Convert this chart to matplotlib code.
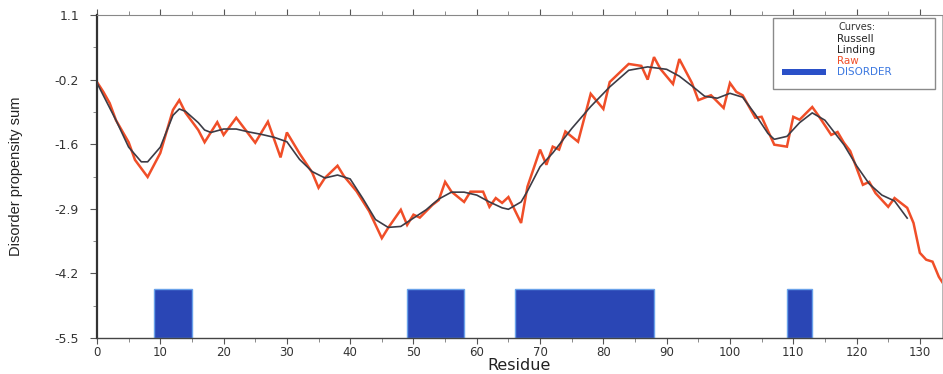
import matplotlib.pyplot as plt
from matplotlib.patches import Rectangle
from matplotlib.ticker import FixedLocator, MultipleLocator


# raw propensity sum per residue
raw_res = [0, 1, 2, 3, 5, 6, 8, 10, 12, 13, 14, 16, 17, 19, 20, 22, 25, 27, 29, 30,
           32, 34, 35, 36, 38, 39, 41, 43, 45, 46, 48, 49, 50, 51, 53, 54, 55, 56, 58, 59,
           61, 62, 63, 64, 65, 67, 68, 70, 71, 72, 73, 74, 76, 78, 80, 81, 84, 86, 87, 88,
           89, 91, 92, 94, 95, 97, 99, 100, 101, 102, 104, 105, 107, 109, 110, 111, 113, 114, 116, 117,
           118, 119, 121, 122, 123, 125, 126, 128, 129, 130, 131, 132, 133, 134]
raw_val = [-0.27, -0.47, -0.70, -1.05, -1.50, -1.86, -2.21, -1.72, -0.84, -0.64,
           -0.90, -1.25, -1.50, -1.09, -1.35, -1.00, -1.51, -1.08, -1.81, -1.30,
           -1.73, -2.12, -2.43, -2.23, -1.98, -2.19, -2.50, -2.91, -3.46, -3.25,
           -2.88, -3.19, -2.98, -3.04, -2.78, -2.68, -2.31, -2.51, -2.72, -2.51,
           -2.51, -2.82, -2.64, -2.74, -2.62, -3.15, -2.41, -1.65, -1.96, -1.59,
           -1.65, -1.28, -1.49, -0.51, -0.82, -0.27, 0.10, 0.06, -0.22, 0.24,
           0.00, -0.31, 0.20, -0.29, -0.64, -0.54, -0.80, -0.29, -0.47, -0.54,
           -1.00, -0.98, -1.55, -1.59, -0.98, -1.04, -0.78, -0.96, -1.35, -1.29,
           -1.51, -1.68, -2.37, -2.31, -2.54, -2.82, -2.64, -2.84, -3.15, -3.76,
           -3.90, -3.94, -4.25, -4.45]

# smoothed curve (Russell / Linding)
smooth_res = [0, 3, 5, 7, 8, 10, 12, 13, 14, 16, 17, 18, 20, 22, 24, 26, 28, 30, 32, 34,
              36, 38, 40, 42, 44, 46, 48, 50, 52, 54, 56, 58, 60, 62, 64, 65, 67, 68, 70, 72,
              75, 78, 81, 84, 87, 90, 92, 94, 96, 98, 100, 102, 104, 106, 107, 109, 111, 113, 115, 118,
              120, 122, 124, 126, 128]
smooth_val = [-0.29, -1.05, -1.60, -1.90, -1.90, -1.60, -0.95, -0.82, -0.87, -1.10,
              -1.25, -1.30, -1.23, -1.23, -1.29, -1.34, -1.40, -1.49, -1.85, -2.10,
              -2.23, -2.17, -2.25, -2.65, -3.08, -3.24, -3.22, -3.05, -2.88, -2.66,
              -2.52, -2.52, -2.58, -2.72, -2.84, -2.87, -2.72, -2.50, -2.00, -1.72,
              -1.22, -0.77, -0.37, -0.03, 0.04, -0.01, -0.15, -0.35, -0.56, -0.60,
              -0.50, -0.58, -0.93, -1.32, -1.44, -1.38, -1.10, -0.90, -1.05, -1.55,
              -1.98, -2.35, -2.58, -2.70, -3.05]

# disordered regions (start, end residue)
disorder_start = [9, 49, 66, 109]
disorder_end = [15, 58, 88, 113]
disorder_top = -4.5

y_ticks = [-5.5, -4.18, -2.86, -1.54, -0.22, 1.1]
y_tick_labels = ["-5.5", "-4.2", "-2.9", "-1.6", "-0.2", "1.1"]


def main():
    fig = plt.figure(figsize=(9.43, 3.74), dpi=100)
    ax = fig.add_axes([97 / 943, 36 / 374, 845 / 943, 323 / 374])

    ymin, ymax = -5.5, 1.1
    widths = [e - s for s, e in zip(disorder_start, disorder_end)]
    ax.bar(disorder_start, [disorder_top - ymin] * len(widths), width=widths,
           bottom=ymin, align="edge", color="#2a46b5", edgecolor="#6aa2ea",
           linewidth=1.0, zorder=1)

    ax.plot(smooth_res, smooth_val, color="#3c3c46", lw=1.2, zorder=3)
    ax.plot(raw_res, raw_val, color="#f04e28", lw=1.8, zorder=2,
            solid_joinstyle="miter")

    ax.set_xlim(0, 133.5)
    ax.set_ylim(ymin, ymax)

    ax.xaxis.set_major_locator(MultipleLocator(10))
    ax.xaxis.set_minor_locator(MultipleLocator(5))
    ax.yaxis.set_major_locator(FixedLocator(y_ticks))
    ax.set_yticklabels(y_tick_labels)
    ax.yaxis.set_minor_locator(FixedLocator(
        [(a + b) / 2 for a, b in zip(y_ticks[:-1], y_ticks[1:])]))

    ax.tick_params(axis="both", which="major", direction="out", length=5,
                   width=0.8, color="#555555", labelsize=9, labelcolor="#333333")
    ax.tick_params(axis="both", which="minor", direction="out", length=3,
                   width=0.6, color="#777777")
    ax.tick_params(axis="x", top=True, which="both", pad=1.5)
    ax.tick_params(axis="x", which="major", length=4, labelsize=8.5)
    ax.tick_params(axis="y", pad=8)

    ax.spines["left"].set_linewidth(1.6)
    ax.spines["left"].set_color("#333333")
    ax.spines["bottom"].set_linewidth(1.0)
    ax.spines["bottom"].set_color("#444444")
    ax.spines["top"].set_linewidth(0.8)
    ax.spines["top"].set_color("#888888")
    ax.spines["right"].set_linewidth(0.6)
    ax.spines["right"].set_color("#aaaaaa")

    ax.set_xlabel("Residue", fontsize=11.5, color="#222222")
    ax.xaxis.set_label_coords(0.5, -0.061)
    ax.set_ylabel("Disorder propensity sum", fontsize=10.5, color="#222222",
                  family=["Liberation Sans", "DejaVu Sans"])
    ax.yaxis.set_label_coords(-0.088, 0.5)

    # legend box, built by hand so the entries can carry their own colours
    lg = fig.add_axes([773 / 943, 285 / 374, 162 / 943, 71 / 374])
    lg.set_xlim(0, 1)
    lg.set_ylim(0, 1)
    lg.axis("off")
    lg.add_patch(Rectangle((0, 0), 1, 1, fill=False, edgecolor="#8a8a8a",
                           linewidth=1.0, transform=lg.transAxes, clip_on=False))
    lg.text(0.52, 0.87, "Curves:", ha="center", va="center", fontsize=7,
            color="#333333")
    entries = [("Russell", "#222222", 0.70), ("Linding", "#222222", 0.545),
               ("Raw", "#f04e28", 0.39), ("DISORDER", "#3c78e0", 0.235)]
    for name, colour, y in entries:
        lg.text(0.395, y, name, ha="left", va="center", fontsize=7.5,
                color=colour)
    lg.add_patch(Rectangle((0.056, 0.20), 0.27, 0.075, facecolor="#2a50c8",
                           edgecolor="none"))

    fig.savefig("out.png", dpi=100)
    plt.close(fig)


if __name__ == "__main__":

    main()
